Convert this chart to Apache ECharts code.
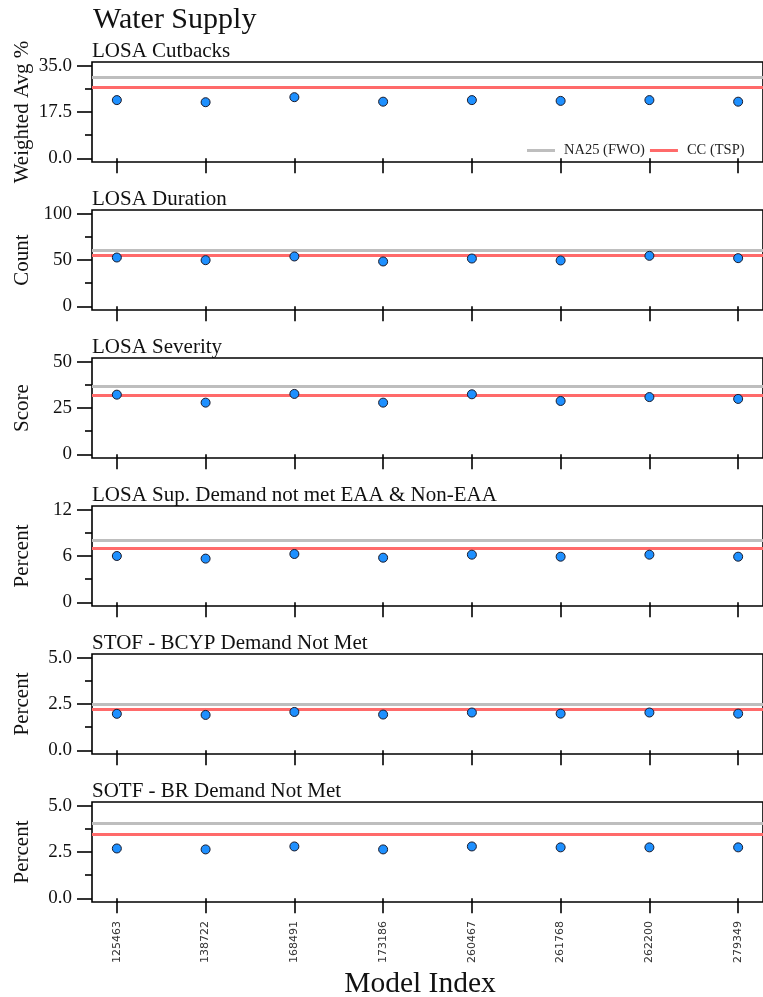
<!DOCTYPE html>
<html>
<head>
<meta charset="utf-8">
<script src="https://cdn.jsdelivr.net/npm/echarts@6/dist/echarts.min.js"></script>
<style>
html,body{margin:0;padding:0;background:#fff;}
#chart{width:763px;height:997px;}
</style>
</head>
<body>
<div id="chart"></div>
<script>
const categories = ['125463','138722','168491','173186','260467','261768','262200','279349'];
const panelTitles = ['LOSA Cutbacks','LOSA Duration','LOSA Severity','LOSA Sup. Demand not met EAA & Non-EAA','STOF - BCYP Demand Not Met','SOTF - BR Demand Not Met'];
const yNames = ['Weighted Avg %','Count','Score','Percent','Percent','Percent'];
const yMajorTicks = [[0,17.5,35],[0,50,100],[0,25,50],[0,6,12],[0,2.5,5],[0,2.5,5]];
const yMinorTicks = [[8.75,26.25],[25,75],[12.5,37.5],[3,9],[1.25,3.75],[1.25,3.75]];
const yDecimals = [1,0,0,0,1,1];
const fwoValues = [30.6, 60.0, 36.9, 8.06, 2.48, 4.05];
const tspValues = [26.8, 55.2, 32.0, 7.03, 2.20, 3.48];
const losaCutbacks = [22.0, 21.2, 23.1, 21.4, 22.0, 21.7, 22.0, 21.4];
const losaDuration = [52.7, 49.8, 53.8, 48.4, 51.6, 49.5, 54.5, 52.0];
const losaSeverity = [32.2, 27.9, 32.6, 27.9, 32.4, 28.8, 30.9, 29.9];
const losaSupDemand = [6.0, 5.66, 6.26, 5.78, 6.17, 5.91, 6.17, 5.91];
const stofBcyp = [1.97, 1.91, 2.07, 1.93, 2.04, 1.98, 2.04, 1.98];
const sotfBr = [2.69, 2.64, 2.80, 2.64, 2.80, 2.75, 2.75, 2.75];
const panelValues = [losaCutbacks, losaDuration, losaSeverity, losaSupDemand, stofBcyp, sotfBr];

const SERIF = 'Liberation Serif';
const FWO_COLOR = '#BEBEBE';
const TSP_COLOR = '#FF6A6A';
const LINE_W = 1.6;

const grids = [], xAxes = [], yAxes = [], series = [], titles = [];
titles.push({text:'Water Supply', left:93, top:5, padding:0, textStyle:{fontFamily:SERIF, fontSize:30, fontWeight:'normal', color:'#111'}});
titles.push({text:'Model Index', left:420, top:969, padding:0, textAlign:'center', textStyle:{fontFamily:SERIF, fontSize:29.5, fontWeight:'normal', color:'#111'}});

for (let i = 0; i < 6; i++) {
  const top = 62 + i*148;
  const maxT = yMajorTicks[i][yMajorTicks[i].length-1];
  const pad = maxT*0.04;
  grids.push({left:92, right:-8, top:top, height:100, show:true, borderColor:'#000', borderWidth:LINE_W, backgroundColor:'transparent'});
  titles.push({text:panelTitles[i], left:92, top:top-21, padding:0, textStyle:{fontFamily:SERIF, fontSize:21, fontWeight:'normal', color:'#111'}});
  const isLast = i === 5;
  xAxes.push({
    type:'value', gridIndex:i, min:0.72, max:8.28, position:'bottom',
    axisLine:{show:false}, splitLine:{show:false},
    axisTick:{show:true, customValues:[1,2,3,4,5,6,7,8], length:15, inside:false, lineStyle:{color:'#000', width:LINE_W}},
    axisLabel:{show:isLast, customValues:[1,2,3,4,5,6,7,8], rotate:90, margin:19, fontFamily:'DejaVu Sans', fontSize:11, color:'#333',
      formatter:(v)=>categories[Math.round(v)-1] || ''}
  });
  const dec = yDecimals[i];
  yAxes.push({
    type:'value', gridIndex:i, min:-pad, max:maxT+pad, position:'left',
    name:yNames[i], nameLocation:'middle', nameGap:59, nameMoveOverlap:false,
    nameTextStyle:{fontFamily:SERIF, fontSize:21, color:'#111'},
    axisLine:{show:false}, splitLine:{show:false},
    axisTick:{show:true, customValues:yMajorTicks[i], length:15, lineStyle:{color:'#000', width:LINE_W}},
    axisLabel:{show:true, customValues:yMajorTicks[i], margin:20, fontFamily:SERIF, fontSize:19, color:'#111',
      formatter:(v)=>Number(v).toFixed(dec)}
  });
  yAxes.push({
    type:'value', gridIndex:i, min:-pad, max:maxT+pad, position:'left', offset:0,
    axisLine:{show:false}, splitLine:{show:false},
    axisTick:{show:true, customValues:yMinorTicks[i], length:7, lineStyle:{color:'#000', width:LINE_W}},
    axisLabel:{show:false}
  });
  const yIdx = 2*i;
  series.push({
    name:'NA25 (FWO)', type:'line', xAxisIndex:i, yAxisIndex:yIdx, data:[],
    itemStyle:{color:FWO_COLOR}, lineStyle:{color:FWO_COLOR, width:3},
    markLine:{symbol:'none', silent:true, label:{show:false}, lineStyle:{color:FWO_COLOR, width:3, type:'solid'}, data:[{yAxis:fwoValues[i]}]}
  });
  series.push({
    name:'CC (TSP)', type:'line', xAxisIndex:i, yAxisIndex:yIdx, data:[],
    itemStyle:{color:TSP_COLOR}, lineStyle:{color:TSP_COLOR, width:3},
    markLine:{symbol:'none', silent:true, label:{show:false}, lineStyle:{color:TSP_COLOR, width:3, type:'solid'}, data:[{yAxis:tspValues[i]}]}
  });
  series.push({
    type:'scatter', xAxisIndex:i, yAxisIndex:yIdx, z:5,
    symbol:'circle', symbolSize:9,
    itemStyle:{color:'#1E90FF', borderColor:'#1a1a2a', borderWidth:1, opacity:1},
    data:panelValues[i].map((v,k)=>[k+1, v])
  });
}

const chart = echarts.init(document.getElementById('chart'), null, {renderer:'canvas'});
chart.setOption({
  animation:false,
  backgroundColor:'#fff',
  title:titles,
  legend:{data:['NA25 (FWO)','CC (TSP)'], left:522, top:138, icon:'rect', itemWidth:28, itemHeight:3, itemGap:5,
    textStyle:{fontFamily:SERIF, fontSize:14.5, color:'#222', padding:[0,0,0,4]}},
  grid:grids,
  xAxis:xAxes,
  yAxis:yAxes,
  series:series
});
</script>
</body>
</html>
